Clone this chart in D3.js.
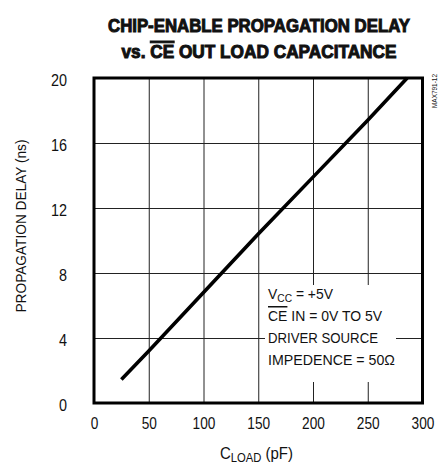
<!DOCTYPE html>
<html>
<head>
<meta charset="utf-8">
<script src="https://cdn.jsdelivr.net/npm/d3@7"></script>
<style>
  html, body { margin: 0; padding: 0; background: #fff; }
  svg { display: block; }
  text { font-family: 'Liberation Sans Narrow', 'Arial Narrow', 'Liberation Sans', Arial, sans-serif; fill: #111; }
</style>
</head>
<body>
<svg id="chart" width="440" height="464"></svg>
<script>
// Propagation delay versus load capacitance
const capLoad = [25, 50, 100, 150, 200, 250, 286];      // pF
const delayNs = [1.45, 3.2, 6.8, 10.4, 13.9, 17.4, 20];  // ns

const xTicks = [0, 50, 100, 150, 200, 250, 300];
const yTicks = [0, 4, 8, 12, 16, 20];

const titleLine1 = "CHIP-ENABLE PROPAGATION DELAY";
const titleLine2 = [{ t: "vs. " }, { t: "CE", over: true }, { t: " OUT LOAD CAPACITANCE" }];
const yTitle = "PROPAGATION DELAY (ns)";
const xTitle = [{ t: "C" }, { t: "LOAD", sub: true }, { t: " (pF)" }];
const noteLines = [
  [{ t: "V" }, { t: "CC", sub: true }, { t: " = +5V" }],
  [{ t: "CE", over: true }, { t: " IN = 0V TO 5V" }],
  [{ t: "DRIVER SOURCE" }],
  [{ t: "IMPEDENCE = 50Ω" }]
];
const partCode = "MAX791-12";

const svg = d3.select("#chart");
const plotL = 94, plotR = 422.5, plotT = 78, plotB = 403;

const x = d3.scaleLinear().domain([0, 300]).range([plotL, plotR]);
const y = d3.scaleLinear().domain([0, 20]).range([plotB, plotT]);

// writes a list of text pieces (plain, subscript, overlined) into a text element
function writeRuns(sel, runs, subSize) {
  let shifted = false;
  runs.forEach(r => {
    const ts = sel.append("tspan").text(r.t);
    if (r.sub) { ts.attr("dy", 3).attr("font-size", subSize); shifted = true; }
    else if (shifted) { ts.attr("dy", -3); shifted = false; }
    if (r.over) ts.style("text-decoration", "overline");
  });
}

// gridlines
svg.append("g")
  .attr("transform", `translate(0,${plotB})`)
  .call(d3.axisBottom(x).tickValues(xTicks.slice(1, -1)).tickSize(-(plotB - plotT)).tickFormat(""))
  .call(g => g.select(".domain").remove())
  .call(g => g.selectAll("line").attr("stroke", "#222").attr("stroke-width", 1));
svg.append("g")
  .attr("transform", `translate(${plotL},0)`)
  .call(d3.axisLeft(y).tickValues(yTicks.slice(1, -1)).tickSize(-(plotR - plotL)).tickFormat(""))
  .call(g => g.select(".domain").remove())
  .call(g => g.selectAll("line").attr("stroke", "#222").attr("stroke-width", 1));

// tick labels (condensed digits)
const fmt = d3.format("d");
svg.append("g")
  .attr("transform", `translate(0,${plotB})`)
  .call(d3.axisBottom(x).tickValues(xTicks).tickSize(0).tickPadding(14).tickFormat(fmt))
  .call(g => g.select(".domain").remove())
  .call(g => g.selectAll("text")
    .attr("font-size", 17).attr("font-family", null).attr("fill", "#111")
    .attr("textLength", d => fmt(d).length * 7.6).attr("lengthAdjust", "spacingAndGlyphs"));
svg.append("g")
  .attr("transform", `translate(${plotL},0)`)
  .call(d3.axisLeft(y).tickValues(yTicks).tickSize(0).tickPadding(27).tickFormat(fmt))
  .call(g => g.select(".domain").remove())
  .call(g => g.selectAll("text")
    .attr("font-size", 16).attr("dy", "0.45em").attr("font-family", null).attr("fill", "#111")
    .attr("textLength", d => fmt(d).length * 8).attr("lengthAdjust", "spacingAndGlyphs"));

// note box covering the grid
svg.append("rect")
  .attr("x", 265).attr("y", 285).attr("width", 131).attr("height", 97)
  .attr("fill", "#fff");

const noteBase = [299, 321, 343, 365];
const noteWidths = [65, 114, 110, 127];
noteLines.forEach((runs, i) => {
  const t = svg.append("text")
    .attr("x", 268).attr("y", noteBase[i])
    .attr("font-size", 15)
    .attr("textLength", noteWidths[i]).attr("lengthAdjust", "spacingAndGlyphs");
  writeRuns(t, runs, 11);
});

// data line
svg.append("path")
  .datum(capLoad.map((c, i) => [c, delayNs[i]]))
  .attr("fill", "none").attr("stroke", "#000").attr("stroke-width", 3.6)
  .attr("d", d3.line().x(d => x(d[0])).y(d => y(d[1])));

// plot frame
svg.append("rect")
  .attr("x", plotL).attr("y", plotT)
  .attr("width", plotR - plotL).attr("height", plotB - plotT)
  .attr("fill", "none").attr("stroke", "#000").attr("stroke-width", 3);

// title
svg.append("text")
  .attr("x", 259).attr("y", 32).attr("text-anchor", "middle")
  .attr("font-size", 18).attr("font-weight", "bold")
  .attr("stroke", "#111").attr("stroke-width", 1)
  .attr("textLength", 302).attr("lengthAdjust", "spacingAndGlyphs")
  .text(titleLine1);
const t2 = svg.append("text")
  .attr("x", 259).attr("y", 58).attr("text-anchor", "middle")
  .attr("font-size", 18).attr("font-weight", "bold")
  .attr("stroke", "#111").attr("stroke-width", 1)
  .attr("textLength", 275).attr("lengthAdjust", "spacingAndGlyphs");
writeRuns(t2, titleLine2, 13);

// axis titles
svg.append("text")
  .attr("transform", "translate(26,226) rotate(-90)")
  .attr("text-anchor", "middle").attr("font-size", 15)
  .attr("textLength", 173).attr("lengthAdjust", "spacingAndGlyphs")
  .text(yTitle);
const xt = svg.append("text")
  .attr("x", 220).attr("y", 459).attr("font-size", 16)
  .attr("textLength", 73).attr("lengthAdjust", "spacingAndGlyphs");
writeRuns(xt, xTitle, 12);

// part code, printed sideways at the right edge
svg.append("text")
  .attr("transform", "translate(437,91) rotate(-90)")
  .attr("text-anchor", "middle").attr("font-size", 6.5)
  .attr("textLength", 34).attr("lengthAdjust", "spacingAndGlyphs")
  .text(partCode);
</script>
</body>
</html>
